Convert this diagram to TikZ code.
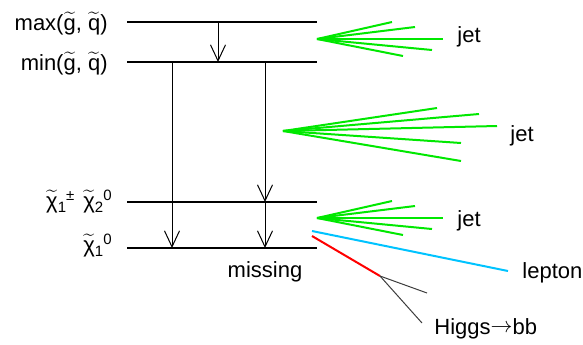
\documentclass[tikz,border=0pt]{standalone}
\usepackage{fontspec}
\setmainfont{Liberation Sans}
\usetikzlibrary{arrows.meta}

\definecolor{jetgreen}{RGB}{0,232,0}
\definecolor{lepcyan}{RGB}{0,195,255}
\definecolor{bgray}{RGB}{60,60,60}

\newcommand\tld[1]{$\widetilde{\mbox{#1}}$}
\newcommand\idx[1]{\fontsize{7.5}{8}\selectfont #1}
\newcommand\neut[2]{\tld{χ}\raisebox{-.35ex}{\idx{#1}}\raisebox{.65ex}{\idx{#2}}}

\begin{document}
\begin{tikzpicture}[x=0.5pt, y=-0.5pt, font=\fontsize{11}{13}\selectfont,
  level/.style={line width=1.25pt},
  decay/.style={line width=0.5pt, -{Straight Barb[length=8pt,width=7.5pt]}},
  jetline/.style={line width=1pt, jetgreen},
  lbl/.style={anchor=base east, inner sep=0pt},
  txt/.style={anchor=base west, inner sep=0pt}]

\useasboundingbox (0,0) rectangle (583,344);

% mass levels
\draw[level] (127,22) coordinate (maxL) -- (317,22) coordinate (maxR);
\draw[level] (127,62) coordinate (minL) -- (317,62) coordinate (minR);
\draw[level] (127,202) coordinate (chiL) -- (317,202) coordinate (chiR);
\draw[level] (127,248) coordinate (lspL) -- (317,248) coordinate (lspR);

\node[lbl] (lmax) at (108,30) {max(\tld{g}, \tld{q})};
\node[lbl] (lmin) at (108,70) {min(\tld{g}, \tld{q})};
\node[lbl] (lchi) at (112,208) {\neut{1}{±}\hspace{4.5pt}\neut{2}{0}};
\node[lbl] (llsp) at (112,252) {\neut{1}{0}};

% decays
\draw[decay] (maxL -| 218,0) -- (minL -| 218,0);
\draw[decay] (minL -| 172,0) -- (lspL -| 172,0);
\draw[decay] (minL -| 265,0) -- (chiL -| 265,0);
\draw[decay] (chiL -| 265,0) -- (lspL -| 265,0);
\node[anchor=base, inner sep=0pt] (miss) at (265,277) {missing};

% jets
\coordinate (jet1) at (317,39);
\coordinate (jet2) at (283,131);
\coordinate (jet3) at (317,218);
\foreach \dx/\dy in {75/-17, 98/-12, 126/0, 115/11, 86/17} {
  \draw[jetline] (jet1) -- ++(\dx,\dy);
  \draw[jetline] (jet3) -- ++(\dx,\dy);
}
\foreach \dx/\dy in {154/-23, 196/-17, 214/-5, 178/12, 178/30}
  \draw[jetline] (jet2) -- ++(\dx,\dy);
\node[txt] (ljet1) at (457,42) {jet};
\node[txt] (ljet2) at (510,141) {jet};
\node[txt] (ljet3) at (457,226) {jet};

% lepton
\coordinate (lepA) at (312,231);
\coordinate (lepB) at (508,271);
\draw[line width=1pt, lepcyan] (lepA) -- (lepB);
\node[txt] (llep) at (522,278) {lepton};

% higgs
\coordinate (hA) at (312,236);
\coordinate (hB) at (380,276);
\draw[line width=1pt, red] (hA) -- (hB);
\draw[line width=0.5pt, bgray] (hB) -- (427,293);
\draw[line width=0.5pt, bgray] (hB) -- (422,323);
\node[txt] (lhiggs) at (434,334) {Higgs\raisebox{1pt}{$\rightarrow$}bb};

\end{tikzpicture}
\end{document}
